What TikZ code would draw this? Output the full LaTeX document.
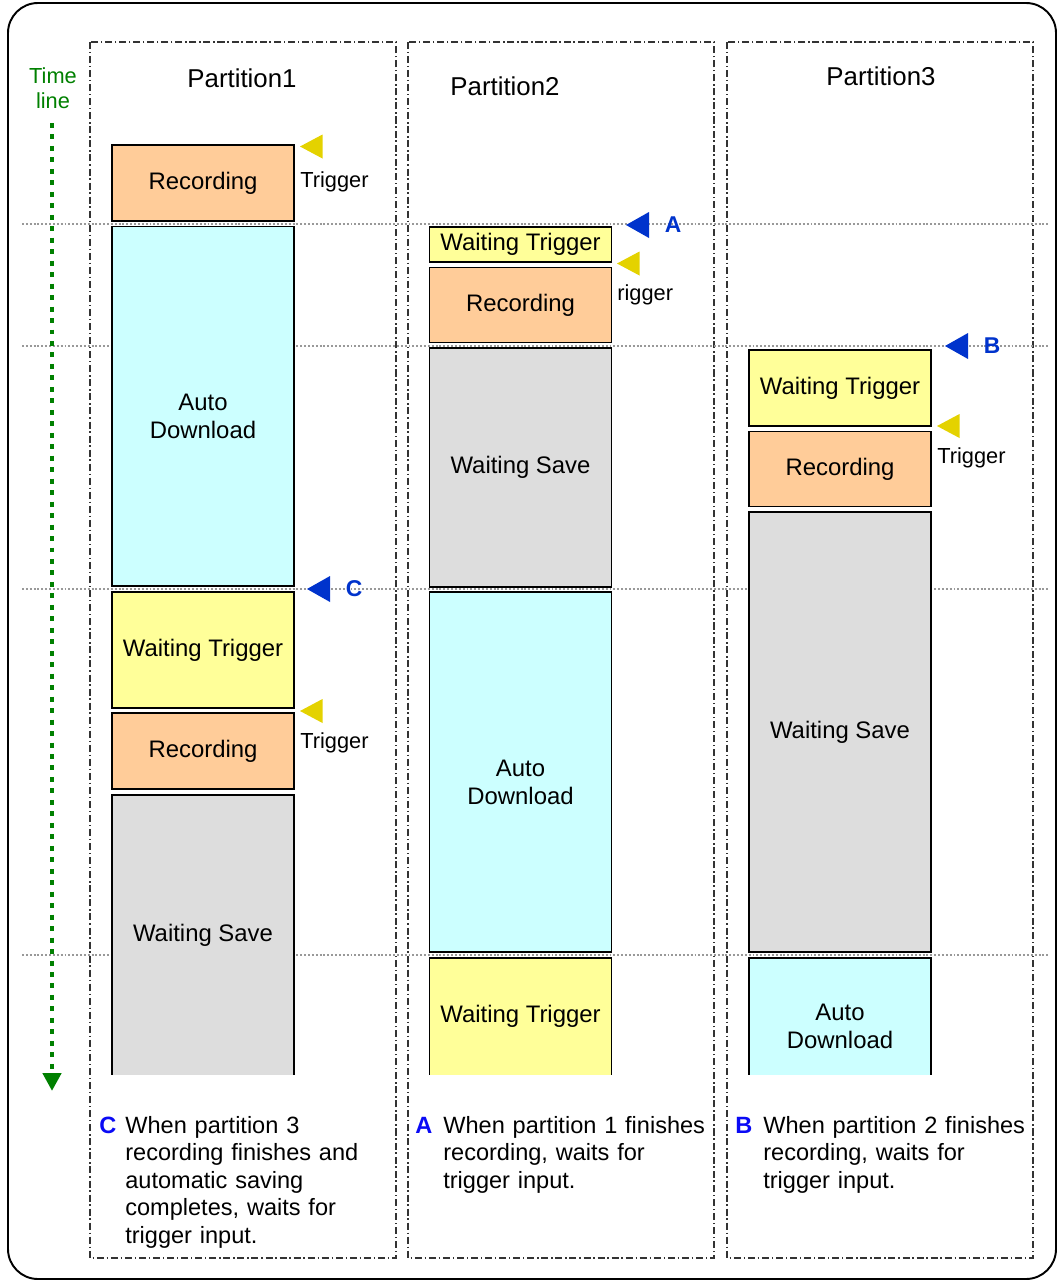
\documentclass[tikz,border=0pt]{standalone}
\usepackage{fontspec}
\setmainfont{Liberation Sans}
\usetikzlibrary{positioning, arrows.meta}

\definecolor{recorange}{RGB}{255,204,153}
\definecolor{autocyan}{RGB}{204,255,255}
\definecolor{waityellow}{RGB}{255,255,153}
\definecolor{savegray}{RGB}{221,221,221}
\definecolor{trigyellow}{RGB}{228,210,0}
\definecolor{markblue}{RGB}{0,51,204}
\definecolor{noteblue}{RGB}{10,10,245}
\definecolor{tlgreen}{RGB}{0,128,0}

\begin{document}
\begin{tikzpicture}[
    x=0.02cm, y=-0.02cm,
    node distance=0.11cm,
    every node/.style={inner sep=0pt},
    box/.style={draw, rectangle, line width=1.1pt, outer sep=0pt, minimum width=3.64cm, align=center, font=\fontsize{13.6}{15.8}\selectfont},
    recbox/.style={box, fill=recorange},
    autobox/.style={box, fill=autocyan, label={[align=center, yshift=-0.2cm, font=\fontsize{13.6}{15.8}\selectfont]center:Auto\\Download}},
    waitbox/.style={box, fill=waityellow},
    savebox/.style={box, fill=savegray},
    sides/.style={line width=1.1pt},
    partframe/.style={draw=black!80, line width=0.75pt, dash pattern=on 4pt off 1.6pt on 0.8pt off 1.6pt},
    gridline/.style={draw=black!40, line width=0.6pt, dash pattern=on 1.1pt off 1.1pt},
    title/.style={font=\fontsize{14.7}{18}\selectfont},
    triglabel/.style={anchor=base west, font=\fontsize{12.4}{15}\selectfont},
    trigmark/.style={fill=trigyellow},
    pointmark/.style={fill=markblue},
    pointlabel/.style={text=markblue, font=\fontsize{13}{15}\selectfont\bfseries},
    noteletter/.style={anchor=base west, text=noteblue, font=\fontsize{13.4}{15.7}\selectfont\bfseries},
    notetext/.style={anchor=base west, text width=5.8cm, align=left, font=\fontsize{13.4}{15.7}\selectfont},
    timeline/.style={draw=tlgreen, line width=2.83pt, dash pattern=on 2.83pt off 3.7pt, -{Triangle[width=0.36cm, length=0.36cm]}}
]
    \useasboundingbox (0,0) rectangle (1059,1282);

    % frame and partitions
    \draw[line width=1.1pt, rounded corners=0.6cm] (8,3) rectangle (1056,1279);
    \draw[partframe] (90,42) rectangle (396,1258);
    \draw[partframe] (408,42) rectangle (714,1258);
    \draw[partframe] (727,42) rectangle (1033,1258);

    \foreach \y in {224,346,589,955}
        \draw[gridline] (22,\y) -- (1050,\y);

    \node[title] (title1) at (242,78) {Partition1};
    \node[title] (title2) at (505,86) {Partition2};
    \node[title] (title3) at (881,76) {Partition3};

    % time line
    \node[text=tlgreen, align=center, font=\fontsize{12.4}{14.2}\selectfont] (tllabel) at (53,88) {Time\\line};
    \coordinate (tlstart) at (52,123);
    \coordinate (tlend) at (52,1091);
    \draw[timeline] (tlstart) -- (tlend);

    % partition 1
    \node[recbox, minimum height=1.52cm] (rec1a) at (203,183) {Recording};
    \node[autobox, minimum height=7.2cm, below=of rec1a] (auto1) {};
    \node[waitbox, minimum height=2.32cm, below=of auto1] (wait1) {Waiting Trigger};
    \node[recbox, minimum height=1.52cm, below=of wait1] (rec1b) {Recording};
    \node[savebox, draw=none, minimum height=5.6cm, below=of rec1b] (save1) {Waiting Save};
    \draw[sides] (save1.south west) -- (save1.north west) -- (save1.north east) -- (save1.south east);

    % partition 2
    \node[waitbox, minimum height=0.7cm] (wait2a) at (520.5,244.5) {Waiting Trigger};
    \node[recbox, minimum height=1.5cm, below=of wait2a] (rec2) {Recording};
    \node[savebox, minimum height=4.78cm, below=of rec2] (save2) {Waiting Save};
    \node[autobox, minimum height=7.2cm, below=of save2] (auto2) {};
    \node[waitbox, draw=none, minimum height=2.34cm, below=of auto2] (wait2b) {Waiting Trigger};
    \draw[sides] (wait2b.south west) -- (wait2b.north west) -- (wait2b.north east) -- (wait2b.south east);

    % partition 3
    \node[waitbox, minimum height=1.52cm] (wait3) at (840,388) {Waiting Trigger};
    \node[recbox, minimum height=1.5cm, below=of wait3] (rec3) {Recording};
    \node[savebox, minimum height=8.81cm, below=of rec3] (save3) {Waiting Save};
    \node[autobox, draw=none, minimum height=2.34cm, below=of save3] (auto3) {};
    \draw[sides] (auto3.south west) -- (auto3.north west) -- (auto3.north east) -- (auto3.south east);

    % trigger marks
    \foreach \x/\y in {300/146.5, 617/263.5, 937/426, 300/711}
        \fill[trigmark] (\x,\y) -- ++(22.5,-12) -- ++(0,24) -- cycle;
    \node[triglabel] (trig1a) at (300,187) {Trigger};
    \node[triglabel] (trig2) at (617,300) {rigger};
    \node[triglabel] (trig3) at (937,463) {Trigger};
    \node[triglabel] (trig1b) at (300,748) {Trigger};

    % A, B, C marks
    \foreach \x/\y in {626/225, 945/346, 307/589}
        \fill[pointmark] (\x,\y) -- ++(23,-13) -- ++(0,26) -- cycle;
    \node[pointlabel] (markA) at (673,225) {A};
    \node[pointlabel] (markB) at (992,346) {B};
    \node[pointlabel] (markC) at (354,589) {C};

    % notes
    \node[noteletter] (noteC) at (99,1133) {C};
    \node[notetext] (textC) at (125,1133) {When partition 3\\recording finishes and\\automatic saving\\completes, waits for\\trigger input.};
    \node[noteletter] (noteA) at (415,1133) {A};
    \node[notetext] (textA) at (443,1133) {When partition 1 finishes\\recording, waits for\\trigger input.};
    \node[noteletter] (noteB) at (735,1133) {B};
    \node[notetext] (textB) at (763,1133) {When partition 2 finishes\\recording, waits for\\trigger input.};
\end{tikzpicture}
\end{document}
